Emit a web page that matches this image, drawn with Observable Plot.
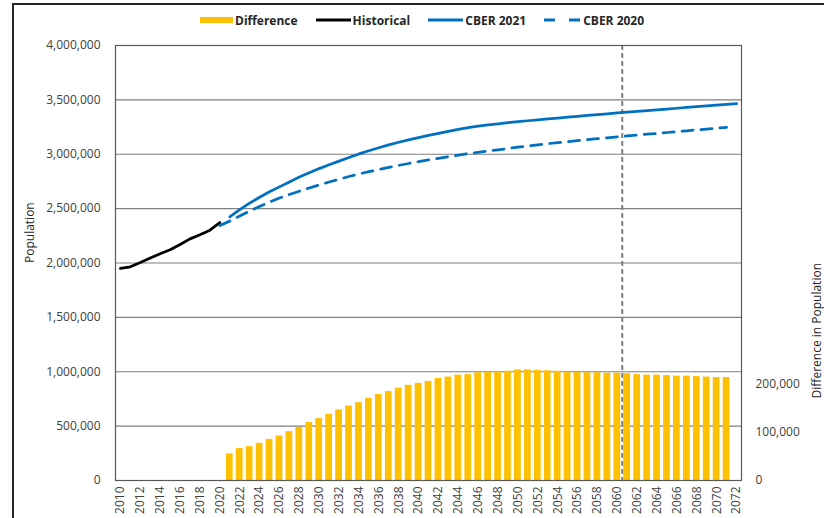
<!DOCTYPE html>
<html>
<head>
<meta charset="utf-8">
<script src="https://cdn.jsdelivr.net/npm/d3@7"></script>
<script src="https://cdn.jsdelivr.net/npm/@observablehq/plot@0.6"></script>
<style>
  html, body { margin: 0; padding: 0; background: #fff; }
  body { width: 824px; height: 518px; position: relative; overflow: hidden; font-family: "Open Sans", sans-serif; }
  #border { position: absolute; left: 12px; top: 3px; right: -4px; bottom: -4px; border-left: 2px solid #262626; border-top: 2px solid #262626; }
  #legend { position: absolute; top: 11px; left: 200px; height: 18px; display: flex; align-items: center; font-weight: bold; font-size: 12px; color: #262626; white-space: nowrap; }
  #legend .item { display: flex; align-items: center; margin-right: 18px; }
  #legend svg { display: block; margin-right: 2px; }
  #chart { position: absolute; top: 36px; left: 0; }
</style>
</head>
<body>
<div id="border"></div>
<div id="legend"></div>
<div id="chart"></div>
<script>
// ---- data ----
const histYears = [2010, 2011, 2012, 2013, 2014, 2015, 2016, 2017, 2018, 2019, 2020];
const histValues = [1950000, 1965000, 2005000, 2045000, 2085000, 2122000, 2170000, 2222000, 2260000, 2302000, 2372000];

const cber2021Years = [2021, 2022, 2023, 2024, 2025, 2026, 2027, 2028, 2029, 2030,
  2031, 2032, 2033, 2034, 2035, 2036, 2037, 2038, 2039, 2040,
  2041, 2042, 2043, 2044, 2045, 2046, 2047, 2048, 2049, 2050,
  2051, 2052, 2053, 2054, 2055, 2056, 2057, 2058, 2059, 2060,
  2061, 2062, 2063, 2064, 2065, 2066, 2067, 2068, 2069, 2070, 2071, 2072];
const cber2021Values = [2425000, 2490000, 2550000, 2605000, 2655000, 2700000, 2745000, 2790000, 2830000, 2868000,
  2903000, 2937000, 2970000, 3003000, 3032000, 3060000, 3086000, 3110000, 3132000, 3153000,
  3173000, 3192000, 3211000, 3229000, 3245000, 3259000, 3270000, 3280000, 3290000, 3299000,
  3308000, 3317000, 3325000, 3333000, 3341000, 3349000, 3357000, 3365000, 3372000, 3380000,
  3388000, 3395000, 3402000, 3409000, 3416000, 3423000, 3430000, 3437000, 3444000, 3451000, 3458000, 3466000];

const cber2020Years = [2020, 2021, 2022, 2023, 2024, 2025, 2026, 2027, 2028, 2029,
  2030, 2031, 2032, 2033, 2034, 2035, 2036, 2037, 2038, 2039,
  2040, 2041, 2042, 2043, 2044, 2045, 2046, 2047, 2048, 2049,
  2050, 2051, 2052, 2053, 2054, 2055, 2056, 2057, 2058, 2059,
  2060, 2061, 2062, 2063, 2064, 2065, 2066, 2067, 2068, 2069, 2070, 2071];
const cber2020Values = [2345000, 2385000, 2432000, 2478000, 2520000, 2560000, 2597000, 2630000, 2660000, 2690000,
  2718000, 2745000, 2770000, 2795000, 2818000, 2840000, 2860000, 2880000, 2898000, 2915000,
  2932000, 2948000, 2963000, 2978000, 2992000, 3005000, 3017000, 3029000, 3041000, 3053000,
  3065000, 3076000, 3087000, 3097000, 3107000, 3116000, 3125000, 3134000, 3143000, 3151000,
  3160000, 3168000, 3176000, 3184000, 3192000, 3200000, 3208000, 3216000, 3224000, 3232000, 3240000, 3248000];

const diffYears = [2021, 2022, 2023, 2024, 2025, 2026, 2027, 2028, 2029, 2030,
  2031, 2032, 2033, 2034, 2035, 2036, 2037, 2038, 2039, 2040,
  2041, 2042, 2043, 2044, 2045, 2046, 2047, 2048, 2049, 2050,
  2051, 2052, 2053, 2054, 2055, 2056, 2057, 2058, 2059, 2060,
  2061, 2062, 2063, 2064, 2065, 2066, 2067, 2068, 2069, 2070, 2071];
const diffValues = [55000, 66000, 70000, 77000, 85000, 92000, 101000, 110000, 120000, 128000,
  137000, 146000, 154000, 161000, 170000, 178000, 184000, 191000, 197000, 201000,
  205000, 211000, 214000, 218000, 219000, 223000, 224000, 225000, 226000, 229000,
  229000, 228000, 227000, 226000, 224000, 224000, 223000, 223000, 222000, 222000,
  221000, 219000, 218000, 218000, 217000, 216000, 216000, 215000, 214000, 213000, 213000];

const leftTicks = [0, 500000, 1000000, 1500000, 2000000, 2500000, 3000000, 3500000, 4000000];
const rightTicks = [0, 100000, 200000];
const xTicks = [2010, 2012, 2014, 2016, 2018, 2020, 2022, 2024, 2026, 2028, 2030, 2032, 2034, 2036, 2038, 2040,
  2042, 2044, 2046, 2048, 2050, 2052, 2054, 2056, 2058, 2060, 2062, 2064, 2066, 2068, 2070, 2072];
const markerYear = [2060];
const leftMax = 4000000;
const rightMax = 900000;

const seriesNames = ["Difference", "Historical", "CBER 2021", "CBER 2020"];
const colors = {Difference: "#FFC000", Historical: "#000000", "CBER 2021": "#0070C0", "CBER 2020": "#0070C0"};

// ---- tables ----
const RATIO = leftMax / rightMax;
const hist = histYears.map((y, i) => ({year: y, value: histValues[i]}));
const c21 = cber2021Years.map((y, i) => ({year: y, value: cber2021Values[i]}));
const c20 = cber2020Years.map((y, i) => ({year: y, value: cber2020Values[i]}));
const diff = diffYears.map((y, i) => ({year: y, value: diffValues[i]}));

// ---- legend ----
const legend = document.getElementById("legend");
const swatches = {
  Difference: `<svg width="33" height="8"><rect x="0" y="1" width="33" height="6" fill="${colors.Difference}"/></svg>`,
  Historical: `<svg width="35" height="8"><line x1="0" x2="35" y1="4" y2="4" stroke="#000" stroke-width="3"/></svg>`,
  "CBER 2021": `<svg width="35" height="8"><line x1="0" x2="35" y1="4" y2="4" stroke="${colors["CBER 2021"]}" stroke-width="3"/></svg>`,
  "CBER 2020": `<svg width="37" height="8"><line x1="0" x2="37" y1="4" y2="4" stroke="${colors["CBER 2020"]}" stroke-width="3" stroke-dasharray="11,14"/></svg>`
};
for (const name of seriesNames) {
  const it = document.createElement("div");
  it.className = "item";
  it.innerHTML = swatches[name] + `<span>${name}</span>`;
  legend.appendChild(it);
}

// ---- chart ----
const fmt = d3.format(",");
const axisFont = {fontSize: 12, fill: "#404040"};
const chart = Plot.plot({
  width: 824,
  height: 482,
  marginLeft: 115,
  marginRight: 83,
  marginTop: 9,
  marginBottom: 38,
  style: {fontFamily: "'Open Sans', sans-serif", fontSize: "12px", color: "#404040", background: "transparent"},
  x: {type: "linear", domain: [2009.5, 2072.5]},
  y: {domain: [0, leftMax]},
  marks: [
    Plot.ruleY(leftTicks, {stroke: "#7f7f7f", strokeWidth: 1.2}),
    Plot.rectY(diff, {
      x1: d => d.year - 0.5, x2: d => d.year + 0.5,
      y1: 0, y2: d => d.value * RATIO,
      fill: colors.Difference, insetLeft: 1.6, insetRight: 1.6
    }),
    // marker sits on the category boundary after 2060
    Plot.ruleX(markerYear, {x: d => d + 0.5, stroke: "#7f7f7f", strokeWidth: 2, strokeDasharray: "5,3"}),
    Plot.line(hist, {x: "year", y: "value", stroke: colors.Historical, strokeWidth: 2.75, curve: "linear"}),
    Plot.line(c21, {x: "year", y: "value", stroke: colors["CBER 2021"], strokeWidth: 2.75}),
    Plot.line(c20, {x: "year", y: "value", stroke: colors["CBER 2020"], strokeWidth: 2.75, strokeDasharray: "11,8"}),
    Plot.frame({stroke: "#595959", strokeWidth: 1.2}),
    Plot.axisY(leftTicks, {anchor: "left", tickSize: 0, tickPadding: 15, tickFormat: fmt, label: null, ...axisFont}),
    Plot.axisY(rightTicks.map(v => v * RATIO), {anchor: "right", tickSize: 0, tickPadding: 14, textAnchor: "start",
      tickFormat: d => fmt(Math.round(d / RATIO)), label: null, ...axisFont}),
    Plot.axisX(xTicks, {anchor: "bottom", tickSize: 0, tickPadding: 6, tickRotate: -90, tickFormat: d => String(d), label: null, ...axisFont}),
    Plot.text(["Population"], {frameAnchor: "left", dx: -85, rotate: -90, fontSize: 12, fill: "#262626"}),
    Plot.text(["Difference in Population"], {frameAnchor: "right", dx: 76, rotate: -90, fontSize: 12, fill: "#262626"})
  ]
});
document.getElementById("chart").appendChild(chart);
</script>
</body>
</html>
